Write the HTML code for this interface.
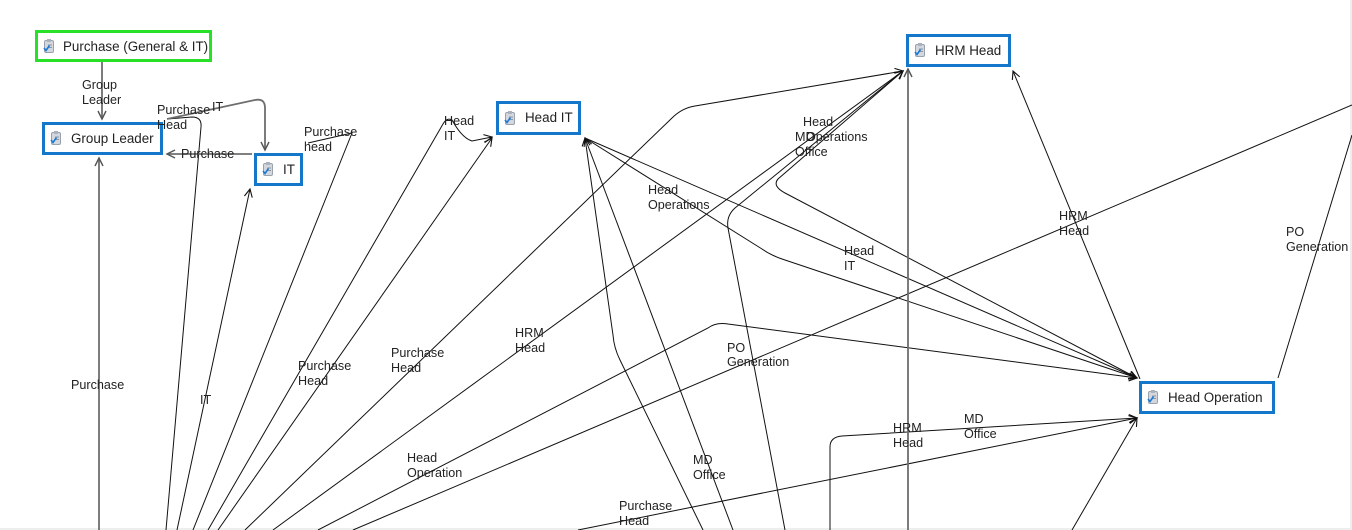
<!DOCTYPE html>
<html><head><meta charset="utf-8"><style>
html,body{margin:0;padding:0;background:#fff;}
svg{display:block;}
text{font-family:"Liberation Sans",sans-serif;fill:#222;}
.l{font-size:12.6px;}
.n{font-size:13.4px;}
</style></head><body>
<svg width="1352" height="530" viewBox="0 0 1352 530" xmlns="http://www.w3.org/2000/svg">
<defs>
<marker id="a" markerUnits="userSpaceOnUse" markerWidth="12" markerHeight="12" refX="9" refY="5" orient="auto">
<path d="M1,1 L9,5 L1,9" fill="none" stroke="#111" stroke-width="1.1"/>
</marker>
<marker id="g" markerUnits="userSpaceOnUse" markerWidth="12" markerHeight="12" refX="9" refY="5" orient="auto">
<path d="M1,1 L9,5 L1,9" fill="none" stroke="#555" stroke-width="1.4"/>
</marker>
<g id="ic">
<rect x="0.5" y="1.5" width="9" height="12" rx="1.5" fill="#d4d8de" stroke="#9aa3ad" stroke-width="1"/>
<rect x="3" y="0" width="4" height="3" fill="#aab2bb"/>
<line x1="4" y1="6" x2="8" y2="6" stroke="#8d96a0"/>
<line x1="4" y1="8.5" x2="8" y2="8.5" stroke="#8d96a0"/>
<path d="M0,9 L2,11.5 L5.5,6.5" fill="none" stroke="#1c7ad4" stroke-width="1.6"/>
</g>
</defs>
<rect width="1352" height="530" fill="#fff"/>
<rect x="0" y="528" width="1352" height="2" fill="#eeeeee"/>
<rect x="1350" y="0" width="2" height="530" fill="#eeeeee"/>

<g fill="none" stroke="#111" stroke-width="1">
<path d="M166,530 L201,127 Q202,117 192,117 L167,119"/>
<path d="M177,530 L250,189" marker-end="url(#a)"/>
<path d="M193,530 L352,133 L308,143"/>
<path d="M208,530 L443,124 Q447,117 452,120 Q462,138 472,141 L492,137" marker-end="url(#a)"/>
<path d="M218,530 L492,138" marker-end="url(#a)"/>
<path d="M245,530 L672,118 Q682,108 695,106 L903,71" marker-end="url(#a)"/>
<path d="M273,530 L903,71" marker-end="url(#a)"/>
<path d="M318,530 L708,328 Q716,322 728,324 L1137,378" marker-end="url(#a)"/>
<path d="M353,530 L1352,105"/>
<path d="M578,530 L1137,418" marker-end="url(#a)"/>
<path d="M830,530 L830,447 Q830,437 842,436 L1137,418" marker-end="url(#a)"/>
<path d="M1072,530 L1137,418" marker-end="url(#a)"/>
<path d="M1278,378 L1352,135"/>
<path d="M1140,379 L1013,71" marker-end="url(#a)"/>
<path d="M1137,378 L785,193 Q772,186 778,179 L903,71" marker-end="url(#a)"/>
<path d="M785,530 L728,228 Q726,216 735,208 L903,71" marker-end="url(#a)"/>
<path d="M703,530 L620,360 Q614,348 613,335 L585,138" marker-end="url(#a)"/>
<path d="M733,530 L585,138" marker-end="url(#a)"/>
<path d="M585,138 L1137,378" marker-end="url(#a)"/>
<path d="M585,138 L762,249 Q772,256 785,260 L1137,378" marker-end="url(#a)"/>
</g>

<g fill="none" stroke="#6e6e6e" stroke-width="1.8">
<path d="M102,62 L102,119" marker-end="url(#g)"/>
<path d="M252,154 L167,154" marker-end="url(#g)"/>
<path d="M167,119 L255,100 Q265,98 265,108 L265,150" marker-end="url(#g)"/>
<path d="M99,530 L99,158" marker-end="url(#g)"/>
<path d="M908,530 L908,69" marker-end="url(#g)"/>
</g>

<!-- nodes -->
<rect x="36.5" y="31.5" width="174" height="29" fill="#fff" stroke="#27e027" stroke-width="3"/>
<use href="#ic" x="44" y="39"/>
<text class="n" x="63" y="51">Purchase (General &amp; IT)</text>

<rect x="43.5" y="123.5" width="118" height="30" fill="#fff" stroke="#1577c9" stroke-width="3"/>
<use href="#ic" x="51" y="131"/>
<text class="n" x="71" y="143">Group Leader</text>

<rect x="255.5" y="154.5" width="46" height="30" fill="#fff" stroke="#1577c9" stroke-width="3"/>
<use href="#ic" x="263" y="162"/>
<text class="n" x="283" y="174">IT</text>

<rect x="497.5" y="102.5" width="82" height="31" fill="#fff" stroke="#1577c9" stroke-width="3"/>
<use href="#ic" x="505" y="111"/>
<text class="n" x="525" y="122">Head IT</text>

<rect x="907.5" y="35.5" width="102" height="30" fill="#fff" stroke="#1577c9" stroke-width="3"/>
<use href="#ic" x="915" y="43"/>
<text class="n" x="935" y="55">HRM Head</text>

<rect x="1140.5" y="382.5" width="133" height="30" fill="#fff" stroke="#1577c9" stroke-width="3"/>
<use href="#ic" x="1148" y="390"/>
<text class="n" x="1168" y="402">Head Operation</text>

<!-- edge labels -->
<g class="l">
<text class="l" x="82" y="89">Group</text><text class="l" x="82" y="104">Leader</text>
<text class="l" x="157" y="114">Purchase</text><text class="l" x="157" y="129">Head</text>
<text class="l" x="212" y="111">IT</text>
<text class="l" x="181" y="158">Purchase</text>
<text class="l" x="304" y="136">Purchase</text><text class="l" x="304" y="151">head</text>
<text class="l" x="444" y="125">Head</text><text class="l" x="444" y="140">IT</text>
<text class="l" x="648" y="194">Head</text><text class="l" x="648" y="209">Operations</text>
<text class="l" x="803" y="126">Head</text><text class="l" x="806" y="141">Operations</text>
<text class="l" x="795" y="141">MD</text><text class="l" x="795" y="156">Office</text>
<text class="l" x="844" y="255">Head</text><text class="l" x="844" y="270">IT</text>
<text class="l" x="1059" y="220">HRM</text><text class="l" x="1059" y="235">Head</text>
<text class="l" x="1286" y="236">PO</text><text class="l" x="1286" y="251">Generation</text>
<text class="l" x="71" y="389">Purchase</text>
<text class="l" x="200" y="404">IT</text>
<text class="l" x="298" y="370">Purchase</text><text class="l" x="298" y="385">Head</text>
<text class="l" x="391" y="357">Purchase</text><text class="l" x="391" y="372">Head</text>
<text class="l" x="515" y="337">HRM</text><text class="l" x="515" y="352">Head</text>
<text class="l" x="727" y="352">PO</text><text class="l" x="727" y="366">Generation</text>
<text class="l" x="407" y="462">Head</text><text class="l" x="407" y="477">Operation</text>
<text class="l" x="693" y="464">MD</text><text class="l" x="693" y="479">Office</text>
<text class="l" x="619" y="510">Purchase</text><text class="l" x="619" y="525">Head</text>
<text class="l" x="893" y="432">HRM</text><text class="l" x="893" y="447">Head</text>
<text class="l" x="964" y="423">MD</text><text class="l" x="964" y="438">Office</text>
</g>
</svg>
</body></html>
